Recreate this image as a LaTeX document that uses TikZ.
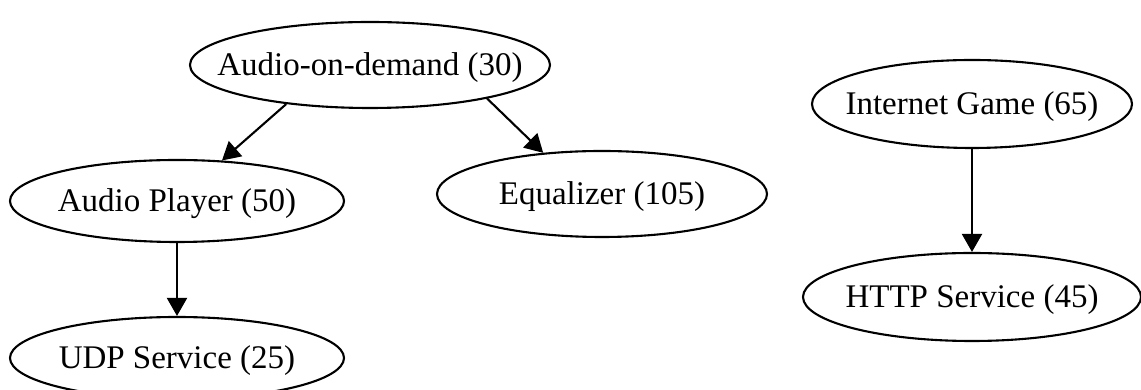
\documentclass[tikz,border=0pt]{standalone}
\usepackage{fontspec}
\setmainfont{Liberation Serif}
\usetikzlibrary{shapes.geometric,arrows.meta}

\tikzset{
  oval/.style 2 args={ellipse, draw, line width=2.1pt, inner sep=0pt,
    minimum width=#1pt, minimum height=#2pt,
    font=\fontsize{33}{39}\selectfont},
  link/.style={line width=2.1pt, -{Triangle[length=18pt,width=20pt]}}
}
% label centred on its node, baseline a fixed distance below the centre
\newcommand{\lbl}[1]{\raisebox{-11pt}[0pt][0pt]{\makebox[0pt]{#1}}}

\begin{document}
\begin{tikzpicture}[x=1pt,y=1pt]
  \clip (0,0) rectangle (1141,390);

  % nodes
  \node[oval={360}{86}] (aod)  at (370,325) {\lbl{Audio-on-demand (30)}};
  \node[oval={334}{82}] (ap)   at (177,189) {\lbl{Audio Player (50)}};
  \node[oval={334}{82}] (udp)  at (177,32)  {\lbl{UDP Service (25)}};
  \node[oval={330}{86}] (eq)   at (602,196) {\lbl{Equalizer (105)}};
  \node[oval={320}{88}] (ig)   at (972,286) {\lbl{Internet Game (65)}};
  \node[oval={338}{88}] (http) at (972,93)  {\lbl{HTTP Service (45)}};

  % connectors
  \draw[link] (aod.205) -- (ap.42);
  \draw[link] (aod.344) -- (eq.145);
  \draw[link] (ap.south) -- (udp.north);
  \draw[link] (ig.south) -- (http.north);
\end{tikzpicture}
\end{document}
